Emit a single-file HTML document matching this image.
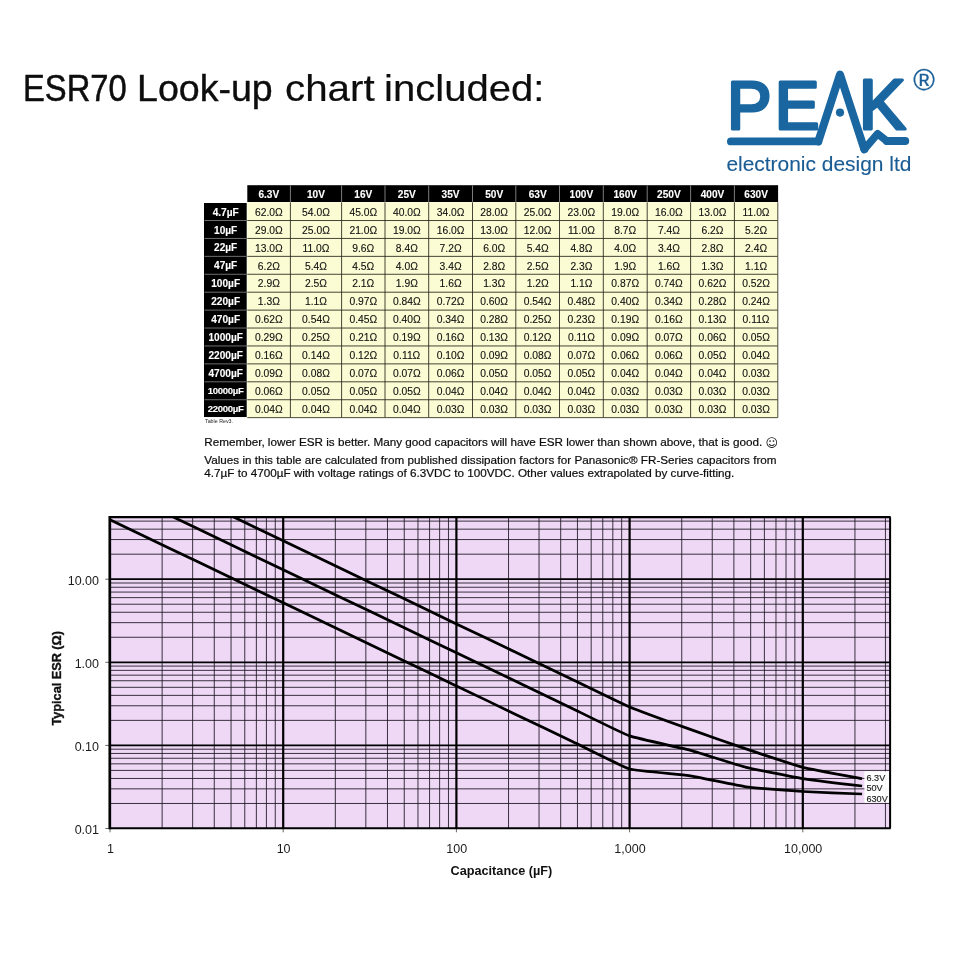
<!DOCTYPE html>
<html lang="en">
<head>
<meta charset="utf-8">
<title>ESR70 Look-up chart included</title>
<style>
html,body{margin:0;padding:0;background:#fff;}
body{width:960px;height:960px;position:relative;overflow:hidden;font-family:"Liberation Sans", Arial, sans-serif;color:#000;}
.abs{position:absolute;}
h1{margin:0;font-weight:400;font-size:37px;-webkit-text-stroke:0.45px #0d0d0d;line-height:44px;position:absolute;left:0;top:0;width:960px;height:0;color:#0d0d0d;}
h1 span{position:absolute;white-space:nowrap;top:67.4px;transform-origin:0 0;}
#logo,#chart{position:absolute;left:0;top:0;width:960px;height:960px;}
#logo text{font-family:"Liberation Sans", Arial, sans-serif;fill:#1a66a0;}
#logo .wm text{font-weight:400;}
#chart text{font-family:"Liberation Sans", Arial, sans-serif;fill:#1c1c1c;}
#tbl{position:absolute;left:0;top:0;width:960px;height:0;font-size:10px;line-height:12px;}
#tbl div[role=cell]{position:absolute;box-sizing:border-box;text-align:center;white-space:nowrap;}
#tbl .h{color:#fff;font-weight:700;font-size:10.1px;-webkit-text-stroke:0.12px #fff;}
#tbl .rh{font-size:10.1px;}
#tbl .rh5{font-size:9.6px;letter-spacing:-0.3px;}
#tbl .d{color:#101010;font-size:10.3px;-webkit-text-stroke:0.12px #101010;}
#tblbg{position:absolute;left:0;top:0;width:960px;height:960px;}
.rev{position:absolute;left:205px;top:416.9px;font-size:5.3px;line-height:8px;color:#222;white-space:nowrap;}
.note{position:absolute;left:204.3px;font-size:11.70px;-webkit-text-stroke:0.2px #0c0c0c;line-height:14px;color:#0c0c0c;white-space:nowrap;margin:0;}
.smile{font-family:"DejaVu Sans",sans-serif;font-size:12px;position:absolute;line-height:14px;letter-spacing:0;-webkit-text-stroke:0;}
</style>
</head>
<body>
<h1><span style="left:23.2px;transform:scaleX(0.885);-webkit-text-stroke-width:0.50px">ESR70</span> <span style="left:136.6px;transform:scaleX(1.015);-webkit-text-stroke-width:0.40px">Look-up</span> <span style="left:285.0px;transform:scaleX(1.090);-webkit-text-stroke-width:0.20px">chart</span> <span style="left:384.2px;transform:scaleX(1.083);-webkit-text-stroke-width:0.20px">included:</span> </h1>
<svg id="logo" viewBox="0 0 960 960" width="960" height="960" role="img" aria-label="PEAK electronic design ltd">
<defs><clipPath id="pk"><path d="M815.45,140.47 L837.15,73.67 L842.85,75.53 L821.15,142.33 Z M837.15,75.53 L842.85,73.67 L867.15,148.37 L861.45,150.23 Z"/></clipPath></defs>
<g class="wm" font-size="69.00" style="fill:#1a66a0;stroke:#1a66a0;stroke-width:3.20px;stroke-linejoin:round">
<text transform="translate(727.00,129.10) scale(0.967,1.000)">P</text><text transform="translate(774.70,129.40) scale(0.972,1.000)">E</text><g clip-path="url(#pk)"><text transform="translate(815.00,141.00) scale(0.750,1.400)">A</text></g><text transform="translate(858.80,129.00) scale(1.024,1.010)">K</text>
</g>
<g fill="none" stroke="#1a66a0" stroke-linecap="round" stroke-linejoin="round">
<path d="M730.9,141.4 H818.3 M886.8,141 H905.3" stroke-width="7.8"/>
<path d="M818.3,141.4 L840,74.6 L864.3,149.3" stroke-width="8"/>
<path d="M864.3,149.3 L877.6,133.8 L886.8,141" stroke-width="7.5"/>
</g>
<circle cx="840" cy="112.6" r="4.1" fill="#1a66a0"/>
<text x="924.10" y="89.90" font-size="29.30" text-anchor="middle" style="fill:#1a5f98;stroke:#1a5f98;stroke-width:0.3px">®</text>
<text x="726.4" y="170.9" font-size="21" textLength="185" lengthAdjust="spacingAndGlyphs" style="fill:#1a5c93;stroke:#1a5c93;stroke-width:0.12px">electronic design ltd</text>
</svg>
<svg id="tblbg" viewBox="0 0 960 960" width="960" height="960" aria-hidden="true">
<rect x="247.30" y="185.20" width="530.80" height="16.80" fill="#000"/>
<rect x="204.00" y="203.00" width="42.70" height="214.04" fill="#000"/>
<rect x="247.30" y="202.20" width="530.50" height="215.44" fill="#fcfcd4"/>
<path d="M290.40,185.50V202.00M341.60,185.50V202.00M385.00,185.50V202.00M428.70,185.50V202.00M472.50,185.50V202.00M515.80,185.50V202.00M559.50,185.50V202.00M603.30,185.50V202.00M647.20,185.50V202.00M690.60,185.50V202.00M734.40,185.50V202.00" stroke="#9a9a9a" stroke-width="0.8" fill="none"/>
<path d="M204.50,220.52H246.50M204.50,238.44H246.50M204.50,256.36H246.50M204.50,274.28H246.50M204.50,292.20H246.50M204.50,310.12H246.50M204.50,328.04H246.50M204.50,345.96H246.50M204.50,363.88H246.50M204.50,381.80H246.50M204.50,399.72H246.50" stroke="#6e6e6e" stroke-width="1" fill="none"/>
<path d="M247.30,220.52H777.80M247.30,238.44H777.80M247.30,256.36H777.80M247.30,274.28H777.80M247.30,292.20H777.80M247.30,310.12H777.80M247.30,328.04H777.80M247.30,345.96H777.80M247.30,363.88H777.80M247.30,381.80H777.80M247.30,399.72H777.80M290.40,202.30V417.64M341.60,202.30V417.64M385.00,202.30V417.64M428.70,202.30V417.64M472.50,202.30V417.64M515.80,202.30V417.64M559.50,202.30V417.64M603.30,202.30V417.64M647.20,202.30V417.64M690.60,202.30V417.64M734.40,202.30V417.64" stroke="#24241a" stroke-width="0.85" fill="none"/>
<path d="M247.30,417.64H777.80V202.30" stroke="#4a4a3a" stroke-width="1" fill="none"/>
</svg>
<div id="tbl" role="table">
<div role="row"><div class="h" role="cell" style="left:247.30px;top:185.20px;width:43.10px;height:16.80px;padding-top:3.60px">6.3V</div> <div class="h" role="cell" style="left:290.40px;top:185.20px;width:51.20px;height:16.80px;padding-top:3.60px">10V</div> <div class="h" role="cell" style="left:341.60px;top:185.20px;width:43.40px;height:16.80px;padding-top:3.60px">16V</div> <div class="h" role="cell" style="left:385.00px;top:185.20px;width:43.70px;height:16.80px;padding-top:3.60px">25V</div> <div class="h" role="cell" style="left:428.70px;top:185.20px;width:43.80px;height:16.80px;padding-top:3.60px">35V</div> <div class="h" role="cell" style="left:472.50px;top:185.20px;width:43.30px;height:16.80px;padding-top:3.60px">50V</div> <div class="h" role="cell" style="left:515.80px;top:185.20px;width:43.70px;height:16.80px;padding-top:3.60px">63V</div> <div class="h" role="cell" style="left:559.50px;top:185.20px;width:43.80px;height:16.80px;padding-top:3.60px">100V</div> <div class="h" role="cell" style="left:603.30px;top:185.20px;width:43.90px;height:16.80px;padding-top:3.60px">160V</div> <div class="h" role="cell" style="left:647.20px;top:185.20px;width:43.40px;height:16.80px;padding-top:3.60px">250V</div> <div class="h" role="cell" style="left:690.60px;top:185.20px;width:43.80px;height:16.80px;padding-top:3.60px">400V</div> <div class="h" role="cell" style="left:734.40px;top:185.20px;width:43.40px;height:16.80px;padding-top:3.60px">630V</div> </div>
<div role="row"><div class="h rh" role="cell" style="left:204.00px;top:202.60px;width:43.30px;height:17.92px;padding-top:4.00px">4.7µF</div> <div class="d" role="cell" style="left:247.30px;top:202.60px;width:43.10px;height:17.92px;padding-top:4.20px">62.0Ω</div> <div class="d" role="cell" style="left:290.40px;top:202.60px;width:51.20px;height:17.92px;padding-top:4.20px">54.0Ω</div> <div class="d" role="cell" style="left:341.60px;top:202.60px;width:43.40px;height:17.92px;padding-top:4.20px">45.0Ω</div> <div class="d" role="cell" style="left:385.00px;top:202.60px;width:43.70px;height:17.92px;padding-top:4.20px">40.0Ω</div> <div class="d" role="cell" style="left:428.70px;top:202.60px;width:43.80px;height:17.92px;padding-top:4.20px">34.0Ω</div> <div class="d" role="cell" style="left:472.50px;top:202.60px;width:43.30px;height:17.92px;padding-top:4.20px">28.0Ω</div> <div class="d" role="cell" style="left:515.80px;top:202.60px;width:43.70px;height:17.92px;padding-top:4.20px">25.0Ω</div> <div class="d" role="cell" style="left:559.50px;top:202.60px;width:43.80px;height:17.92px;padding-top:4.20px">23.0Ω</div> <div class="d" role="cell" style="left:603.30px;top:202.60px;width:43.90px;height:17.92px;padding-top:4.20px">19.0Ω</div> <div class="d" role="cell" style="left:647.20px;top:202.60px;width:43.40px;height:17.92px;padding-top:4.20px">16.0Ω</div> <div class="d" role="cell" style="left:690.60px;top:202.60px;width:43.80px;height:17.92px;padding-top:4.20px">13.0Ω</div> <div class="d" role="cell" style="left:734.40px;top:202.60px;width:43.40px;height:17.92px;padding-top:4.20px">11.0Ω</div> </div>
<div role="row"><div class="h rh" role="cell" style="left:204.00px;top:220.52px;width:43.30px;height:17.92px;padding-top:4.00px">10µF</div> <div class="d" role="cell" style="left:247.30px;top:220.52px;width:43.10px;height:17.92px;padding-top:4.20px">29.0Ω</div> <div class="d" role="cell" style="left:290.40px;top:220.52px;width:51.20px;height:17.92px;padding-top:4.20px">25.0Ω</div> <div class="d" role="cell" style="left:341.60px;top:220.52px;width:43.40px;height:17.92px;padding-top:4.20px">21.0Ω</div> <div class="d" role="cell" style="left:385.00px;top:220.52px;width:43.70px;height:17.92px;padding-top:4.20px">19.0Ω</div> <div class="d" role="cell" style="left:428.70px;top:220.52px;width:43.80px;height:17.92px;padding-top:4.20px">16.0Ω</div> <div class="d" role="cell" style="left:472.50px;top:220.52px;width:43.30px;height:17.92px;padding-top:4.20px">13.0Ω</div> <div class="d" role="cell" style="left:515.80px;top:220.52px;width:43.70px;height:17.92px;padding-top:4.20px">12.0Ω</div> <div class="d" role="cell" style="left:559.50px;top:220.52px;width:43.80px;height:17.92px;padding-top:4.20px">11.0Ω</div> <div class="d" role="cell" style="left:603.30px;top:220.52px;width:43.90px;height:17.92px;padding-top:4.20px">8.7Ω</div> <div class="d" role="cell" style="left:647.20px;top:220.52px;width:43.40px;height:17.92px;padding-top:4.20px">7.4Ω</div> <div class="d" role="cell" style="left:690.60px;top:220.52px;width:43.80px;height:17.92px;padding-top:4.20px">6.2Ω</div> <div class="d" role="cell" style="left:734.40px;top:220.52px;width:43.40px;height:17.92px;padding-top:4.20px">5.2Ω</div> </div>
<div role="row"><div class="h rh" role="cell" style="left:204.00px;top:238.44px;width:43.30px;height:17.92px;padding-top:4.00px">22µF</div> <div class="d" role="cell" style="left:247.30px;top:238.44px;width:43.10px;height:17.92px;padding-top:4.20px">13.0Ω</div> <div class="d" role="cell" style="left:290.40px;top:238.44px;width:51.20px;height:17.92px;padding-top:4.20px">11.0Ω</div> <div class="d" role="cell" style="left:341.60px;top:238.44px;width:43.40px;height:17.92px;padding-top:4.20px">9.6Ω</div> <div class="d" role="cell" style="left:385.00px;top:238.44px;width:43.70px;height:17.92px;padding-top:4.20px">8.4Ω</div> <div class="d" role="cell" style="left:428.70px;top:238.44px;width:43.80px;height:17.92px;padding-top:4.20px">7.2Ω</div> <div class="d" role="cell" style="left:472.50px;top:238.44px;width:43.30px;height:17.92px;padding-top:4.20px">6.0Ω</div> <div class="d" role="cell" style="left:515.80px;top:238.44px;width:43.70px;height:17.92px;padding-top:4.20px">5.4Ω</div> <div class="d" role="cell" style="left:559.50px;top:238.44px;width:43.80px;height:17.92px;padding-top:4.20px">4.8Ω</div> <div class="d" role="cell" style="left:603.30px;top:238.44px;width:43.90px;height:17.92px;padding-top:4.20px">4.0Ω</div> <div class="d" role="cell" style="left:647.20px;top:238.44px;width:43.40px;height:17.92px;padding-top:4.20px">3.4Ω</div> <div class="d" role="cell" style="left:690.60px;top:238.44px;width:43.80px;height:17.92px;padding-top:4.20px">2.8Ω</div> <div class="d" role="cell" style="left:734.40px;top:238.44px;width:43.40px;height:17.92px;padding-top:4.20px">2.4Ω</div> </div>
<div role="row"><div class="h rh" role="cell" style="left:204.00px;top:256.36px;width:43.30px;height:17.92px;padding-top:4.00px">47µF</div> <div class="d" role="cell" style="left:247.30px;top:256.36px;width:43.10px;height:17.92px;padding-top:4.20px">6.2Ω</div> <div class="d" role="cell" style="left:290.40px;top:256.36px;width:51.20px;height:17.92px;padding-top:4.20px">5.4Ω</div> <div class="d" role="cell" style="left:341.60px;top:256.36px;width:43.40px;height:17.92px;padding-top:4.20px">4.5Ω</div> <div class="d" role="cell" style="left:385.00px;top:256.36px;width:43.70px;height:17.92px;padding-top:4.20px">4.0Ω</div> <div class="d" role="cell" style="left:428.70px;top:256.36px;width:43.80px;height:17.92px;padding-top:4.20px">3.4Ω</div> <div class="d" role="cell" style="left:472.50px;top:256.36px;width:43.30px;height:17.92px;padding-top:4.20px">2.8Ω</div> <div class="d" role="cell" style="left:515.80px;top:256.36px;width:43.70px;height:17.92px;padding-top:4.20px">2.5Ω</div> <div class="d" role="cell" style="left:559.50px;top:256.36px;width:43.80px;height:17.92px;padding-top:4.20px">2.3Ω</div> <div class="d" role="cell" style="left:603.30px;top:256.36px;width:43.90px;height:17.92px;padding-top:4.20px">1.9Ω</div> <div class="d" role="cell" style="left:647.20px;top:256.36px;width:43.40px;height:17.92px;padding-top:4.20px">1.6Ω</div> <div class="d" role="cell" style="left:690.60px;top:256.36px;width:43.80px;height:17.92px;padding-top:4.20px">1.3Ω</div> <div class="d" role="cell" style="left:734.40px;top:256.36px;width:43.40px;height:17.92px;padding-top:4.20px">1.1Ω</div> </div>
<div role="row"><div class="h rh" role="cell" style="left:204.00px;top:274.28px;width:43.30px;height:17.92px;padding-top:4.00px">100µF</div> <div class="d" role="cell" style="left:247.30px;top:274.28px;width:43.10px;height:17.92px;padding-top:4.20px">2.9Ω</div> <div class="d" role="cell" style="left:290.40px;top:274.28px;width:51.20px;height:17.92px;padding-top:4.20px">2.5Ω</div> <div class="d" role="cell" style="left:341.60px;top:274.28px;width:43.40px;height:17.92px;padding-top:4.20px">2.1Ω</div> <div class="d" role="cell" style="left:385.00px;top:274.28px;width:43.70px;height:17.92px;padding-top:4.20px">1.9Ω</div> <div class="d" role="cell" style="left:428.70px;top:274.28px;width:43.80px;height:17.92px;padding-top:4.20px">1.6Ω</div> <div class="d" role="cell" style="left:472.50px;top:274.28px;width:43.30px;height:17.92px;padding-top:4.20px">1.3Ω</div> <div class="d" role="cell" style="left:515.80px;top:274.28px;width:43.70px;height:17.92px;padding-top:4.20px">1.2Ω</div> <div class="d" role="cell" style="left:559.50px;top:274.28px;width:43.80px;height:17.92px;padding-top:4.20px">1.1Ω</div> <div class="d" role="cell" style="left:603.30px;top:274.28px;width:43.90px;height:17.92px;padding-top:4.20px">0.87Ω</div> <div class="d" role="cell" style="left:647.20px;top:274.28px;width:43.40px;height:17.92px;padding-top:4.20px">0.74Ω</div> <div class="d" role="cell" style="left:690.60px;top:274.28px;width:43.80px;height:17.92px;padding-top:4.20px">0.62Ω</div> <div class="d" role="cell" style="left:734.40px;top:274.28px;width:43.40px;height:17.92px;padding-top:4.20px">0.52Ω</div> </div>
<div role="row"><div class="h rh" role="cell" style="left:204.00px;top:292.20px;width:43.30px;height:17.92px;padding-top:4.00px">220µF</div> <div class="d" role="cell" style="left:247.30px;top:292.20px;width:43.10px;height:17.92px;padding-top:4.20px">1.3Ω</div> <div class="d" role="cell" style="left:290.40px;top:292.20px;width:51.20px;height:17.92px;padding-top:4.20px">1.1Ω</div> <div class="d" role="cell" style="left:341.60px;top:292.20px;width:43.40px;height:17.92px;padding-top:4.20px">0.97Ω</div> <div class="d" role="cell" style="left:385.00px;top:292.20px;width:43.70px;height:17.92px;padding-top:4.20px">0.84Ω</div> <div class="d" role="cell" style="left:428.70px;top:292.20px;width:43.80px;height:17.92px;padding-top:4.20px">0.72Ω</div> <div class="d" role="cell" style="left:472.50px;top:292.20px;width:43.30px;height:17.92px;padding-top:4.20px">0.60Ω</div> <div class="d" role="cell" style="left:515.80px;top:292.20px;width:43.70px;height:17.92px;padding-top:4.20px">0.54Ω</div> <div class="d" role="cell" style="left:559.50px;top:292.20px;width:43.80px;height:17.92px;padding-top:4.20px">0.48Ω</div> <div class="d" role="cell" style="left:603.30px;top:292.20px;width:43.90px;height:17.92px;padding-top:4.20px">0.40Ω</div> <div class="d" role="cell" style="left:647.20px;top:292.20px;width:43.40px;height:17.92px;padding-top:4.20px">0.34Ω</div> <div class="d" role="cell" style="left:690.60px;top:292.20px;width:43.80px;height:17.92px;padding-top:4.20px">0.28Ω</div> <div class="d" role="cell" style="left:734.40px;top:292.20px;width:43.40px;height:17.92px;padding-top:4.20px">0.24Ω</div> </div>
<div role="row"><div class="h rh" role="cell" style="left:204.00px;top:310.12px;width:43.30px;height:17.92px;padding-top:4.00px">470µF</div> <div class="d" role="cell" style="left:247.30px;top:310.12px;width:43.10px;height:17.92px;padding-top:4.20px">0.62Ω</div> <div class="d" role="cell" style="left:290.40px;top:310.12px;width:51.20px;height:17.92px;padding-top:4.20px">0.54Ω</div> <div class="d" role="cell" style="left:341.60px;top:310.12px;width:43.40px;height:17.92px;padding-top:4.20px">0.45Ω</div> <div class="d" role="cell" style="left:385.00px;top:310.12px;width:43.70px;height:17.92px;padding-top:4.20px">0.40Ω</div> <div class="d" role="cell" style="left:428.70px;top:310.12px;width:43.80px;height:17.92px;padding-top:4.20px">0.34Ω</div> <div class="d" role="cell" style="left:472.50px;top:310.12px;width:43.30px;height:17.92px;padding-top:4.20px">0.28Ω</div> <div class="d" role="cell" style="left:515.80px;top:310.12px;width:43.70px;height:17.92px;padding-top:4.20px">0.25Ω</div> <div class="d" role="cell" style="left:559.50px;top:310.12px;width:43.80px;height:17.92px;padding-top:4.20px">0.23Ω</div> <div class="d" role="cell" style="left:603.30px;top:310.12px;width:43.90px;height:17.92px;padding-top:4.20px">0.19Ω</div> <div class="d" role="cell" style="left:647.20px;top:310.12px;width:43.40px;height:17.92px;padding-top:4.20px">0.16Ω</div> <div class="d" role="cell" style="left:690.60px;top:310.12px;width:43.80px;height:17.92px;padding-top:4.20px">0.13Ω</div> <div class="d" role="cell" style="left:734.40px;top:310.12px;width:43.40px;height:17.92px;padding-top:4.20px">0.11Ω</div> </div>
<div role="row"><div class="h rh" role="cell" style="left:204.00px;top:328.04px;width:43.30px;height:17.92px;padding-top:4.00px">1000µF</div> <div class="d" role="cell" style="left:247.30px;top:328.04px;width:43.10px;height:17.92px;padding-top:4.20px">0.29Ω</div> <div class="d" role="cell" style="left:290.40px;top:328.04px;width:51.20px;height:17.92px;padding-top:4.20px">0.25Ω</div> <div class="d" role="cell" style="left:341.60px;top:328.04px;width:43.40px;height:17.92px;padding-top:4.20px">0.21Ω</div> <div class="d" role="cell" style="left:385.00px;top:328.04px;width:43.70px;height:17.92px;padding-top:4.20px">0.19Ω</div> <div class="d" role="cell" style="left:428.70px;top:328.04px;width:43.80px;height:17.92px;padding-top:4.20px">0.16Ω</div> <div class="d" role="cell" style="left:472.50px;top:328.04px;width:43.30px;height:17.92px;padding-top:4.20px">0.13Ω</div> <div class="d" role="cell" style="left:515.80px;top:328.04px;width:43.70px;height:17.92px;padding-top:4.20px">0.12Ω</div> <div class="d" role="cell" style="left:559.50px;top:328.04px;width:43.80px;height:17.92px;padding-top:4.20px">0.11Ω</div> <div class="d" role="cell" style="left:603.30px;top:328.04px;width:43.90px;height:17.92px;padding-top:4.20px">0.09Ω</div> <div class="d" role="cell" style="left:647.20px;top:328.04px;width:43.40px;height:17.92px;padding-top:4.20px">0.07Ω</div> <div class="d" role="cell" style="left:690.60px;top:328.04px;width:43.80px;height:17.92px;padding-top:4.20px">0.06Ω</div> <div class="d" role="cell" style="left:734.40px;top:328.04px;width:43.40px;height:17.92px;padding-top:4.20px">0.05Ω</div> </div>
<div role="row"><div class="h rh" role="cell" style="left:204.00px;top:345.96px;width:43.30px;height:17.92px;padding-top:4.00px">2200µF</div> <div class="d" role="cell" style="left:247.30px;top:345.96px;width:43.10px;height:17.92px;padding-top:4.20px">0.16Ω</div> <div class="d" role="cell" style="left:290.40px;top:345.96px;width:51.20px;height:17.92px;padding-top:4.20px">0.14Ω</div> <div class="d" role="cell" style="left:341.60px;top:345.96px;width:43.40px;height:17.92px;padding-top:4.20px">0.12Ω</div> <div class="d" role="cell" style="left:385.00px;top:345.96px;width:43.70px;height:17.92px;padding-top:4.20px">0.11Ω</div> <div class="d" role="cell" style="left:428.70px;top:345.96px;width:43.80px;height:17.92px;padding-top:4.20px">0.10Ω</div> <div class="d" role="cell" style="left:472.50px;top:345.96px;width:43.30px;height:17.92px;padding-top:4.20px">0.09Ω</div> <div class="d" role="cell" style="left:515.80px;top:345.96px;width:43.70px;height:17.92px;padding-top:4.20px">0.08Ω</div> <div class="d" role="cell" style="left:559.50px;top:345.96px;width:43.80px;height:17.92px;padding-top:4.20px">0.07Ω</div> <div class="d" role="cell" style="left:603.30px;top:345.96px;width:43.90px;height:17.92px;padding-top:4.20px">0.06Ω</div> <div class="d" role="cell" style="left:647.20px;top:345.96px;width:43.40px;height:17.92px;padding-top:4.20px">0.06Ω</div> <div class="d" role="cell" style="left:690.60px;top:345.96px;width:43.80px;height:17.92px;padding-top:4.20px">0.05Ω</div> <div class="d" role="cell" style="left:734.40px;top:345.96px;width:43.40px;height:17.92px;padding-top:4.20px">0.04Ω</div> </div>
<div role="row"><div class="h rh" role="cell" style="left:204.00px;top:363.88px;width:43.30px;height:17.92px;padding-top:4.00px">4700µF</div> <div class="d" role="cell" style="left:247.30px;top:363.88px;width:43.10px;height:17.92px;padding-top:4.20px">0.09Ω</div> <div class="d" role="cell" style="left:290.40px;top:363.88px;width:51.20px;height:17.92px;padding-top:4.20px">0.08Ω</div> <div class="d" role="cell" style="left:341.60px;top:363.88px;width:43.40px;height:17.92px;padding-top:4.20px">0.07Ω</div> <div class="d" role="cell" style="left:385.00px;top:363.88px;width:43.70px;height:17.92px;padding-top:4.20px">0.07Ω</div> <div class="d" role="cell" style="left:428.70px;top:363.88px;width:43.80px;height:17.92px;padding-top:4.20px">0.06Ω</div> <div class="d" role="cell" style="left:472.50px;top:363.88px;width:43.30px;height:17.92px;padding-top:4.20px">0.05Ω</div> <div class="d" role="cell" style="left:515.80px;top:363.88px;width:43.70px;height:17.92px;padding-top:4.20px">0.05Ω</div> <div class="d" role="cell" style="left:559.50px;top:363.88px;width:43.80px;height:17.92px;padding-top:4.20px">0.05Ω</div> <div class="d" role="cell" style="left:603.30px;top:363.88px;width:43.90px;height:17.92px;padding-top:4.20px">0.04Ω</div> <div class="d" role="cell" style="left:647.20px;top:363.88px;width:43.40px;height:17.92px;padding-top:4.20px">0.04Ω</div> <div class="d" role="cell" style="left:690.60px;top:363.88px;width:43.80px;height:17.92px;padding-top:4.20px">0.04Ω</div> <div class="d" role="cell" style="left:734.40px;top:363.88px;width:43.40px;height:17.92px;padding-top:4.20px">0.03Ω</div> </div>
<div role="row"><div class="h rh5" role="cell" style="left:204.00px;top:381.80px;width:43.30px;height:17.92px;padding-top:3.10px">10000µF</div> <div class="d" role="cell" style="left:247.30px;top:381.80px;width:43.10px;height:17.92px;padding-top:4.20px">0.06Ω</div> <div class="d" role="cell" style="left:290.40px;top:381.80px;width:51.20px;height:17.92px;padding-top:4.20px">0.05Ω</div> <div class="d" role="cell" style="left:341.60px;top:381.80px;width:43.40px;height:17.92px;padding-top:4.20px">0.05Ω</div> <div class="d" role="cell" style="left:385.00px;top:381.80px;width:43.70px;height:17.92px;padding-top:4.20px">0.05Ω</div> <div class="d" role="cell" style="left:428.70px;top:381.80px;width:43.80px;height:17.92px;padding-top:4.20px">0.04Ω</div> <div class="d" role="cell" style="left:472.50px;top:381.80px;width:43.30px;height:17.92px;padding-top:4.20px">0.04Ω</div> <div class="d" role="cell" style="left:515.80px;top:381.80px;width:43.70px;height:17.92px;padding-top:4.20px">0.04Ω</div> <div class="d" role="cell" style="left:559.50px;top:381.80px;width:43.80px;height:17.92px;padding-top:4.20px">0.04Ω</div> <div class="d" role="cell" style="left:603.30px;top:381.80px;width:43.90px;height:17.92px;padding-top:4.20px">0.03Ω</div> <div class="d" role="cell" style="left:647.20px;top:381.80px;width:43.40px;height:17.92px;padding-top:4.20px">0.03Ω</div> <div class="d" role="cell" style="left:690.60px;top:381.80px;width:43.80px;height:17.92px;padding-top:4.20px">0.03Ω</div> <div class="d" role="cell" style="left:734.40px;top:381.80px;width:43.40px;height:17.92px;padding-top:4.20px">0.03Ω</div> </div>
<div role="row"><div class="h rh5" role="cell" style="left:204.00px;top:399.72px;width:43.30px;height:17.92px;padding-top:3.10px">22000µF</div> <div class="d" role="cell" style="left:247.30px;top:399.72px;width:43.10px;height:17.92px;padding-top:4.20px">0.04Ω</div> <div class="d" role="cell" style="left:290.40px;top:399.72px;width:51.20px;height:17.92px;padding-top:4.20px">0.04Ω</div> <div class="d" role="cell" style="left:341.60px;top:399.72px;width:43.40px;height:17.92px;padding-top:4.20px">0.04Ω</div> <div class="d" role="cell" style="left:385.00px;top:399.72px;width:43.70px;height:17.92px;padding-top:4.20px">0.04Ω</div> <div class="d" role="cell" style="left:428.70px;top:399.72px;width:43.80px;height:17.92px;padding-top:4.20px">0.03Ω</div> <div class="d" role="cell" style="left:472.50px;top:399.72px;width:43.30px;height:17.92px;padding-top:4.20px">0.03Ω</div> <div class="d" role="cell" style="left:515.80px;top:399.72px;width:43.70px;height:17.92px;padding-top:4.20px">0.03Ω</div> <div class="d" role="cell" style="left:559.50px;top:399.72px;width:43.80px;height:17.92px;padding-top:4.20px">0.03Ω</div> <div class="d" role="cell" style="left:603.30px;top:399.72px;width:43.90px;height:17.92px;padding-top:4.20px">0.03Ω</div> <div class="d" role="cell" style="left:647.20px;top:399.72px;width:43.40px;height:17.92px;padding-top:4.20px">0.03Ω</div> <div class="d" role="cell" style="left:690.60px;top:399.72px;width:43.80px;height:17.92px;padding-top:4.20px">0.03Ω</div> <div class="d" role="cell" style="left:734.40px;top:399.72px;width:43.40px;height:17.92px;padding-top:4.20px">0.03Ω</div> </div>
</div>
<div class="rev">Table Rev3.</div>
<p class="note" style="top:435.4px;letter-spacing:-0.008px">Remember, lower ESR is better. Many good capacitors will have ESR lower than shown above, that is good. <span class="smile" style="left:561.2px;top:0.4px">☺</span></p>
<p class="note" style="top:453.2px">Values in this table are calculated from published dissipation factors for Panasonic® FR-Series capacitors from</p>
<p class="note" style="top:466.4px">4.7µF to 4700µF with voltage ratings of 6.3VDC to 100VDC. Other values extrapolated by curve-fitting.</p>
<svg id="chart" viewBox="0 0 960 960" width="960" height="960" role="img" aria-label="Typical ESR versus capacitance">
<defs><clipPath id="pc"><rect x="109.8" y="517.2" width="780.2" height="311.1"/></clipPath></defs>
<rect x="109.8" y="517.2" width="780.2" height="311.1" fill="#eed8f6"/>
<path d="M162.14,517.2V828.3M192.64,517.2V828.3M214.28,517.2V828.3M231.06,517.2V828.3M244.78,517.2V828.3M256.37,517.2V828.3M266.42,517.2V828.3M275.27,517.2V828.3M335.34,517.2V828.3M365.84,517.2V828.3M387.48,517.2V828.3M404.26,517.2V828.3M417.98,517.2V828.3M429.57,517.2V828.3M439.62,517.2V828.3M448.47,517.2V828.3M508.54,517.2V828.3M539.04,517.2V828.3M560.68,517.2V828.3M577.46,517.2V828.3M591.18,517.2V828.3M602.77,517.2V828.3M612.82,517.2V828.3M621.67,517.2V828.3M681.74,517.2V828.3M712.24,517.2V828.3M733.88,517.2V828.3M750.66,517.2V828.3M764.38,517.2V828.3M775.97,517.2V828.3M786.02,517.2V828.3M794.87,517.2V828.3M854.94,517.2V828.3M885.44,517.2V828.3M109.8,803.48H890.0M109.8,788.85H890.0M109.8,778.47H890.0M109.8,770.42H890.0M109.8,763.84H890.0M109.8,758.27H890.0M109.8,753.45H890.0M109.8,749.20H890.0M109.8,720.38H890.0M109.8,705.75H890.0M109.8,695.37H890.0M109.8,687.32H890.0M109.8,680.74H890.0M109.8,675.17H890.0M109.8,670.35H890.0M109.8,666.10H890.0M109.8,637.28H890.0M109.8,622.65H890.0M109.8,612.27H890.0M109.8,604.22H890.0M109.8,597.64H890.0M109.8,592.07H890.0M109.8,587.25H890.0M109.8,583.00H890.0M109.8,554.18H890.0M109.8,539.55H890.0M109.8,529.17H890.0M109.8,521.12H890.0" fill="none" stroke="#1b1420" stroke-width="1" stroke-opacity="0.85"/>
<path d="M283.20,517.2V828.3M456.40,517.2V828.3M629.60,517.2V828.3M802.80,517.2V828.3" fill="none" stroke="#000" stroke-width="2.2"/>
<path d="M109.8,745.40H890.0M109.8,662.30H890.0M109.8,579.20H890.0" fill="none" stroke="#000" stroke-width="1.8"/>
<path d="M110.00,828.3v4M283.20,828.3v4M456.40,828.3v4M629.60,828.3v4M802.80,828.3v4M109.8,828.50h-4.5M109.8,745.40h-4.5M109.8,662.30h-4.5M109.8,579.20h-4.5" fill="none" stroke="#555" stroke-width="0.9"/>
<path d="M109.8,516.1V829.3" stroke="#000" stroke-width="2.7" fill="none"/>
<path d="M109.8,828.3H890.7" stroke="#000" stroke-width="2" fill="none"/>
<path d="M109.8,517.2H890.7" stroke="#000" stroke-width="2.3" fill="none"/>
<path d="M890.1,517.2V828.3" stroke="#000" stroke-width="2" fill="none"/>
<g clip-path="url(#pc)" fill="none" stroke="#000" stroke-width="2.75" stroke-linejoin="round" stroke-linecap="butt">
<path d="M53.2,430.4C56.6,432.1 103.0,454.3 110.0,457.7C117.0,461.0 162.3,482.8 169.3,486.1C176.3,489.5 219.6,510.2 226.4,513.5C233.2,516.8 276.2,537.4 283.2,540.8C290.2,544.1 335.5,565.9 342.5,569.2C349.5,572.6 392.8,593.3 399.6,596.6C406.4,599.9 449.4,620.5 456.4,623.9C463.4,627.2 508.7,649.0 515.7,652.3C522.7,655.7 566.0,676.4 572.8,679.7C579.6,683.0 622.6,704.0 629.6,707.0C636.6,709.9 681.9,726.4 688.9,728.9C695.9,731.4 739.2,746.6 746.0,748.9C752.8,751.2 795.8,765.5 802.8,767.3C809.8,769.1 858.5,778.0 862.1,778.7"/>
<path d="M53.2,459.4C56.6,461.0 103.0,483.3 110.0,486.6C117.0,490.0 162.3,511.7 169.3,515.1C176.3,518.4 219.6,539.2 226.4,542.5C233.2,545.8 276.2,566.4 283.2,569.7C290.2,573.1 335.5,594.8 342.5,598.2C349.5,601.5 392.8,622.3 399.6,625.6C406.4,628.9 449.4,649.5 456.4,652.8C463.4,656.2 508.7,677.9 515.7,681.3C522.7,684.6 566.0,705.4 572.8,708.7C579.6,712.0 622.6,733.5 629.6,735.9C636.6,738.4 681.9,748.0 688.9,749.9C695.9,751.8 739.2,765.6 746.0,767.3C752.8,769.0 795.8,777.5 802.8,778.6C809.8,779.7 858.5,785.6 862.1,786.0"/>
<path d="M53.2,492.5C56.6,494.1 103.0,516.4 110.0,519.7C117.0,523.0 162.3,544.8 169.3,548.2C176.3,551.5 219.6,572.3 226.4,575.6C233.2,578.8 276.2,599.5 283.2,602.8C290.2,606.1 335.5,627.9 342.5,631.3C349.5,634.6 392.8,655.4 399.6,658.7C406.4,661.9 449.4,682.6 456.4,685.9C463.4,689.2 508.7,711.0 515.7,714.4C522.7,717.7 566.0,738.5 572.8,741.8C579.6,745.0 622.6,767.0 629.6,769.0C636.6,771.0 681.9,774.5 688.9,775.6C695.9,776.7 739.2,785.9 746.0,786.9C752.8,787.9 795.8,791.1 802.8,791.5C809.8,791.9 858.5,793.9 862.1,794.0"/>
</g>
<rect x="864.4" y="771.3" width="24.6" height="31.4" fill="#fff" fill-opacity="0.96"/>
<g font-size="9.1" style="stroke:#1c1c1c;stroke-width:0.15px">
<text x="866.5" y="780.5">6.3V</text> <text x="866.5" y="790.7">50V</text> <text x="866.5" y="801.6">630V</text>
</g>
<g font-size="12.5" text-anchor="end">
<text x="99" y="584.8">10.00</text> <text x="99" y="667.9">1.00</text> <text x="99" y="751.0">0.10</text> <text x="99" y="834.1">0.01</text> 
</g>
<g font-size="12.5" text-anchor="middle">
<text x="110.4" y="852.8">1</text> <text x="283.6" y="852.8">10</text> <text x="456.8" y="852.8">100</text> <text x="630.0" y="852.8">1,000</text> <text x="803.2" y="852.8">10,000</text> 
</g>
<text x="501.4" y="874.8" font-size="12.7" font-weight="700" text-anchor="middle" style="fill:#111">Capacitance (µF)</text>
<text transform="translate(61.2,678.3) rotate(-90)" font-size="12.7" font-weight="700" text-anchor="middle" style="fill:#111;stroke:#111;stroke-width:0.35px">Typical ESR (Ω)</text>
</svg>
</body>
</html>
